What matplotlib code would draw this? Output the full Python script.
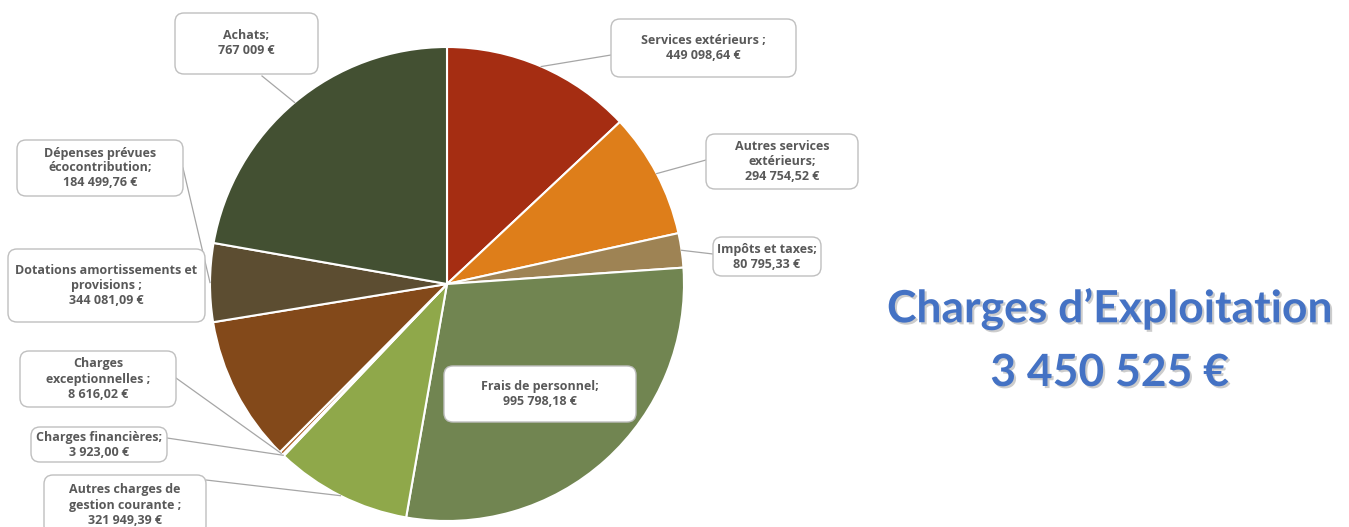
import numpy as np
import matplotlib
matplotlib.use("Agg")
import matplotlib.pyplot as plt
from matplotlib.patches import FancyBboxPatch
import matplotlib.patheffects as pe

# ---- data ----
categories = ["Services extérieurs ;", "Autres services\nextérieurs;", "Impôts et taxes;",
              "Frais de personnel;", "Autres charges de\ngestion courante ;", "Charges financières;",
              "Charges\nexceptionnelles ;", "Dotations amortissements et\nprovisions ;",
              "Dépenses prévues\nécocontribution;", "Achats;"]
values = [449098.64, 294754.52, 80795.33, 995798.18, 321949.39, 3923.00,
          8616.02, 344081.09, 184499.76, 767009.00]
value_labels = ["449 098,64 €", "294 754,52 €", "80 795,33 €", "995 798,18 €", "321 949,39 €",
                "3 923,00 €", "8 616,02 €", "344 081,09 €", "184 499,76 €", "767 009 €"]
colors = ["#A52D12", "#DE7E1A", "#9E8354", "#718551", "#8FA84A", "#7A2A12",
          "#B0652A", "#83491A", "#5C4D31", "#435032"]
title_lines = ["Charges d\u2019Exploitation", "3 450 525 €"]

# ---- layout (pixel coords, y from top) ----
W, H = 1349, 527
cx, cy, R = 447, 284, 237
boxes = [
    ((611, 19, 796, 77), (611, 55)),
    ((706, 134, 858, 189), (706, 160)),
    ((713, 237, 821, 276), (713, 254)),
    ((444, 366, 636, 422), None),
    ((44, 475, 206, 535), (206, 480)),
    ((31, 427, 167, 462), (167, 438)),
    ((20, 351, 176, 407), (176, 378)),
    ((8, 249, 205, 322), None),
    ((17, 140, 183, 196), (183, 168)),
    ((175, 13, 318, 74), (262, 76)),
]

fig = plt.figure(figsize=(W / 100, H / 100), dpi=100)
ax = fig.add_axes([0, 0, 1, 1])

wedges, _ = ax.pie(values, colors=colors, startangle=90, counterclock=False,
                   center=(cx, H - cy), radius=R, frame=True,
                   wedgeprops=dict(edgecolor="white", linewidth=1.5))
ax.set_xlim(0, W)
ax.set_ylim(0, H)
ax.set_aspect("equal")
ax.axis("off")

total = sum(values)
cum = np.cumsum([0] + values[:-1]) / total
fr = np.array(values) / total
for i, (cat, vl) in enumerate(zip(categories, value_labels)):
    (x0, y0, x1, y1), anchor = boxes[i]
    th = 2 * np.pi * (cum[i] + fr[i] / 2)
    px, py = cx + R * np.sin(th), cy - R * np.cos(th)
    if anchor is not None:
        ax.plot([px, anchor[0]], [H - py, H - anchor[1]], color="#A6A6A6", lw=0.9, zorder=3)
    box = FancyBboxPatch((x0, H - y1), x1 - x0, y1 - y0,
                         boxstyle="round,pad=0,rounding_size=9",
                         fc="white", ec="#BFBFBF", lw=1.0, zorder=4)
    ax.add_patch(box)
    ax.text((x0 + x1) / 2, H - (y0 + y1) / 2, cat + "\n" + vl, ha="center", va="center",
            fontsize=9, fontweight="bold", color="#595959", family="Open Sans",
            linespacing=1.2, zorder=5)

shadow = [pe.SimplePatchShadow(offset=(1.5, -1.5), shadow_rgbFace="#9a9a9a", alpha=0.5), pe.Normal()]
for j, y in enumerate([309, 373]):
    ax.text(1110, H - y, title_lines[j], ha="center", va="center", fontsize=32,
            fontweight="bold", color="#4472C4", family="Lato", path_effects=shadow)

fig.savefig("out.png", dpi=100, facecolor="white")
